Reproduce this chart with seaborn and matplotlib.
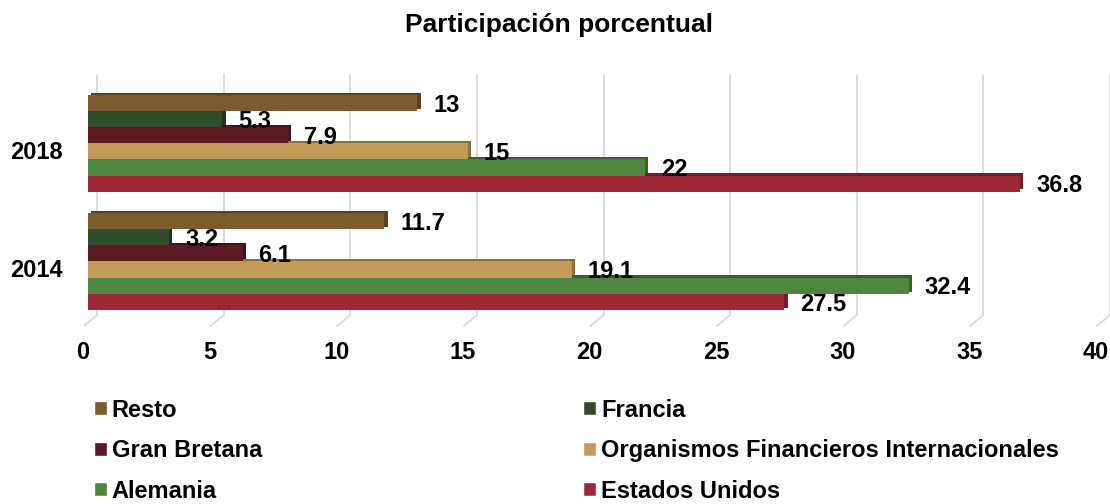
import matplotlib
matplotlib.use("Agg")
import matplotlib.pyplot as plt
import matplotlib.patheffects as pe
import matplotlib.transforms as mtransforms
from matplotlib.colors import to_rgb
import seaborn as sns
import pandas as pd
from matplotlib.patches import Patch

years = ["2018", "2014"]
series = ["Resto", "Francia", "Gran Bretana", "Organismos Financieros Internacionales",
          "Alemania", "Estados Unidos"]
values_2018 = [13, 5.3, 7.9, 15, 22, 36.8]
values_2014 = [11.7, 3.2, 6.1, 19.1, 32.4, 27.5]
colors = ["#7B5C2E", "#2E4D28", "#5C1A22", "#C39A5A", "#4E8541", "#9E2836"]
xticks = [0, 5, 10, 15, 20, 25, 30, 35, 40]

rows = []
for s, v18, v14 in zip(series, values_2018, values_2014):
    rows.append({"Año": "2018", "Serie": s, "Valor": v18})
    rows.append({"Año": "2014", "Serie": s, "Valor": v14})
df = pd.DataFrame(rows)

sns.set_theme(style="white")
plt.rcParams["font.family"] = ["Liberation Sans", "DejaVu Sans"]
plt.rcParams["text.color"] = "black"
plt.rcParams["xtick.color"] = "black"
plt.rcParams["ytick.color"] = "black"

fig = plt.figure(figsize=(11.1, 5.04), dpi=100)
ax = fig.add_axes([0.0793, 0.375, 0.9126, 0.476])

sns.barplot(data=df, y="Año", x="Valor", hue="Serie", order=years, hue_order=series,
            palette=colors, orient="h", width=0.82, ax=ax, legend=False,
            saturation=1, edgecolor="none")

def darker(c, f=0.72):
    r, g, b = to_rgb(c)
    return (r * f, g * f, b * f)

for i, cont in enumerate(ax.containers):
    for p in cont.patches:
        p.set_zorder(20 - i)
        p.set_path_effects([
            pe.SimplePatchShadow(offset=(2.4, 1.6), shadow_rgbFace=darker(colors[i]), alpha=1),
            pe.Normal()])
    texts = ax.bar_label(cont, labels=[f"{v:g}" for v in cont.datavalues], padding=11.5,
                         fontsize=17, fontweight="bold", color="black")
    for t in texts:
        t.xyann = (11.5, -1.6)
        t.set_zorder(40)

ax.set_xlim(0, 40)
ax.set_ylim(1.453, -0.576)
ax.set_xticks(xticks)
ax.set_xticklabels([str(v) for v in xticks], fontsize=17, fontweight="bold")
ax.tick_params(axis="x", pad=18.5, length=0)
ax.tick_params(axis="y", pad=18, length=0, labelsize=17)
for lbl in ax.get_yticklabels():
    lbl.set_fontweight("bold")
    lbl.set_transform(lbl.get_transform() + mtransforms.ScaledTranslation(0, -0.07, fig.dpi_scale_trans))
for lbl in ax.get_xticklabels():
    lbl.set_transform(lbl.get_transform() + mtransforms.ScaledTranslation(-0.05, 0, fig.dpi_scale_trans))
ax.set_xlabel("")
ax.set_ylabel("")
for sp in ax.spines.values():
    sp.set_visible(False)

# 3D-style gridlines (back wall shifted right, slanted floor edge)
grid_c = "#D9D9D9"
ax.grid(axis="x", color=grid_c, linewidth=1.3)
shift = mtransforms.ScaledTranslation(0.09, 0, fig.dpi_scale_trans)
for gl in ax.get_xgridlines():
    gl.set_transform(gl.get_transform() + shift)
    gl.set_clip_on(False)
ax.set_axisbelow(True)
for v in xticks:
    ax.annotate("", xy=(v, 0), xycoords=ax.get_xaxis_transform() + shift,
                xytext=(-9.4, -7.9), textcoords="offset points",
                arrowprops=dict(arrowstyle="-", shrinkA=0, shrinkB=0, color=grid_c, lw=1.3),
                annotation_clip=False, zorder=0)

fig.text(0.504, 1 - 32 / 504, "Participación porcentual", fontsize=19, fontweight="bold",
         ha="center", va="baseline")

order = [0, 2, 4, 1, 3, 5]
handles = [Patch(facecolor=colors[i], label=series[i]) for i in order]
fig.legend(handles=handles, loc="upper left", bbox_to_anchor=(0.0847, 0.209), ncol=2,
           frameon=False, prop={"weight": "bold", "size": 17}, handlelength=0.55,
           handleheight=0.55, handletextpad=0.2, labelspacing=0.74, columnspacing=13.6,
           borderaxespad=0, borderpad=0)

fig.savefig("out.png", dpi=100)
